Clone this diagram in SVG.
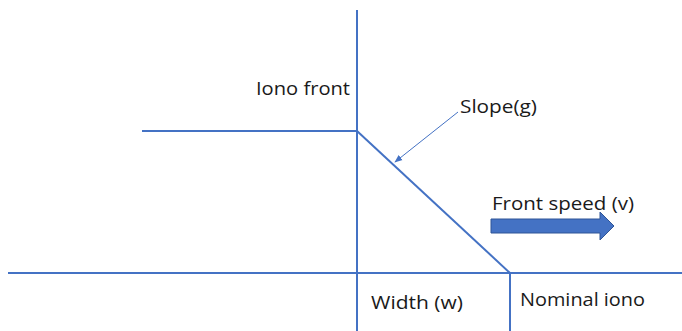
<svg xmlns="http://www.w3.org/2000/svg" width="682" height="331" viewBox="0 0 682 331">
  <style>
    .ln { stroke: #4472C4; stroke-width: 2; fill: none; }
    .thin { stroke: #4472C4; stroke-width: 1; fill: none; }
    .lbl { font-family: "Open Sans", "Liberation Sans", sans-serif; font-size: 18px; fill: #1a1a1a; }
  </style>
  <defs>
    <marker id="tip" viewBox="0 0 10 10" refX="9" refY="5" markerWidth="8" markerHeight="8" markerUnits="userSpaceOnUse" orient="auto">
      <path d="M0,1 L10,5 L0,9 Z" fill="#4472C4"/>
    </marker>
  </defs>
  <rect width="682" height="331" fill="#ffffff"/>

  <g id="connectors">
    <!-- axes -->
    <line class="ln" x1="357" y1="10" x2="357" y2="331"/>
    <line class="ln" x1="8" y1="273" x2="682" y2="273"/>
    <!-- front profile -->
    <line class="ln" x1="142" y1="131" x2="357" y2="131"/>
    <line class="ln" x1="357" y1="131" x2="510" y2="273"/>
    <line class="ln" x1="510" y1="273" x2="510" y2="331"/>
    <!-- slope pointer -->
    <line class="thin" x1="458" y1="112" x2="395" y2="162" marker-end="url(#tip)"/>
  </g>

  <g id="speed-arrow">
    <path d="M491,219 H600 V212 L614,226 L600,240 V233 H491 Z" fill="#4472C4" stroke="#2F5597" stroke-width="1"/>
  </g>

  <g id="iono-front"><text class="lbl" x="256" y="95" textLength="94" lengthAdjust="spacingAndGlyphs">Iono front</text></g>
  <g id="slope"><text class="lbl" x="460" y="113" textLength="77" lengthAdjust="spacingAndGlyphs">Slope(g)</text></g>
  <g id="front-speed"><text class="lbl" x="492" y="210" textLength="142" lengthAdjust="spacingAndGlyphs">Front speed (v)</text></g>
  <g id="width"><text class="lbl" x="371" y="309" textLength="92" lengthAdjust="spacingAndGlyphs">Width (w)</text></g>
  <g id="nominal-iono"><text class="lbl" x="520" y="306" textLength="125" lengthAdjust="spacingAndGlyphs">Nominal iono</text></g>
</svg>
